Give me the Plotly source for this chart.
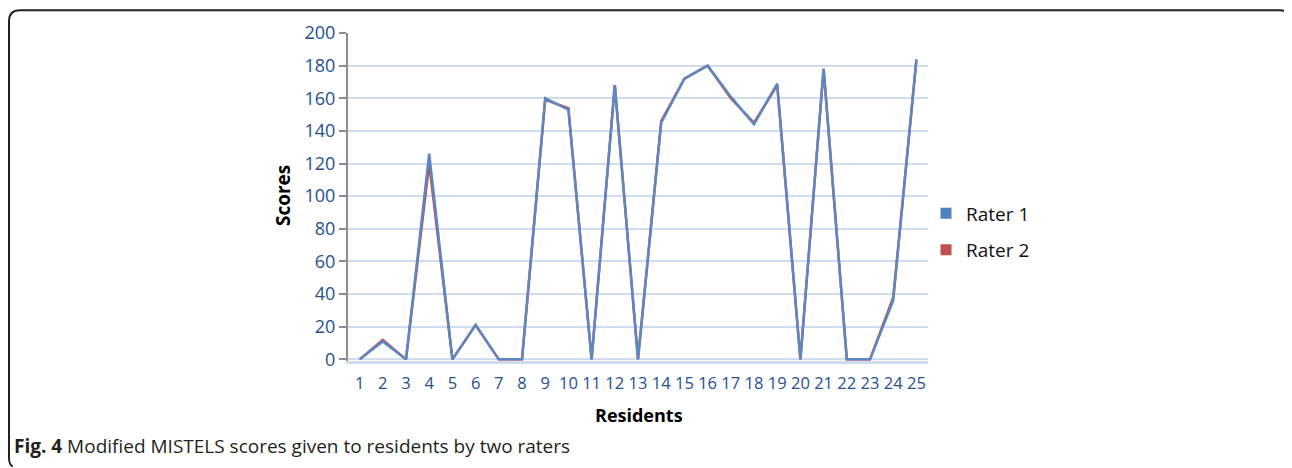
import plotly.graph_objects as go

residents = [str(i) for i in range(1, 26)]
rater1 = [0, 11, 0, 126, 0, 21, 0, 0, 160, 153, 0, 168, 0, 145, 172, 180, 161, 144, 169, 0, 178, 0, 0, 36, 184]
rater2 = [0, 12, 0, 120, 0, 21, 0, 0, 159, 154, 0, 168, 0, 146, 172, 180, 160, 145, 168, 0, 178, 0, 0, 38, 183]
y_ticks = [0, 20, 40, 60, 80, 100, 120, 140, 160, 180, 200]

OFF = 8  # browser body margin
W, H = 1292 - OFF, 468 - OFF
# plot area in reference (page) pixel coordinates
L, R, T, B = 348, 928, 31, 361
PW, PH = R - L, B - T


def px(x):
    return (x - L) / PW


def py(y):
    return (B - y) / PH


BLUE = "#5b87c5"
RED = "#c0504d"
TICK = "#24508f"
FONT = "Open Sans"

fig = go.Figure()
fig.add_trace(go.Scatter(x=residents, y=rater2, mode="lines", line=dict(color=RED, width=2.5),
                         showlegend=False, hoverinfo="skip"))
fig.add_trace(go.Scatter(x=residents, y=rater1, mode="lines", line=dict(color=BLUE, width=2.5),
                         showlegend=False, hoverinfo="skip"))
fig.add_trace(go.Scatter(x=[None], y=[None], mode="markers", name="Rater 1", legendgroup="a",
                         marker=dict(symbol="square", size=11, color="#4f81bd")))
fig.add_trace(go.Scatter(x=[None], y=[None], mode="markers", name="Rater 2", legendgroup="b",
                         marker=dict(symbol="square", size=11, color=RED)))

# frame path (rounded corners top-left, top-right, bottom-left)
fr = (f"M {px(1288)},{py(16)} Q {px(1288)},{py(8)} {px(1280)},{py(8)} "
      f"L {px(20)},{py(8)} Q {px(9)},{py(8)} {px(9)},{py(19)} "
      f"L {px(9)},{py(458)} Q {px(9)},{py(466)} {px(13)},{py(467)}")

fig.update_layout(
    width=W, height=H,
    margin=dict(l=L - OFF, r=1292 - R, t=T - OFF, b=468 - B),
    paper_bgcolor="white", plot_bgcolor="white",
    font=dict(family=FONT),
    xaxis=dict(type="category", range=[-0.5, 24.5], showgrid=False,
               showline=True, linecolor="#cfdcee", linewidth=3,
               ticks="outside", ticklen=5, tickcolor="rgba(0,0,0,0)",
               tickfont=dict(size=16.5, color=TICK, family=FONT)),
    yaxis=dict(range=[-1, 200], tickvals=y_ticks, showgrid=True, gridcolor="#cfdcee", gridwidth=2,
               showline=True, linecolor="#8c8c8c", linewidth=2, zeroline=False,
               ticks="outside", ticklen=7, tickcolor="#8c8c8c", tickwidth=2,
               tickfont=dict(size=18, color=TICK, family=FONT)),
    legend=dict(x=px(926), y=py(231), xanchor="left", yanchor="middle",
                font=dict(size=19, color="#111111", family=FONT),
                tracegroupgap=9, bgcolor="rgba(0,0,0,0)"),
    shapes=[dict(type="path", path=fr, xref="paper", yref="paper",
                 line=dict(color="#222222", width=2), layer="above")],
    annotations=[
        dict(text="<b>Scores</b>", x=px(283), y=py(195), xref="paper", yref="paper",
             xanchor="center", yanchor="middle",
             showarrow=False, textangle=-90, font=dict(size=19, color="#000000", family=FONT)),
        dict(text="<b>Residents</b>", x=px(639), y=py(415), xref="paper", yref="paper",
             xanchor="center", yanchor="middle",
             showarrow=False, font=dict(size=18, color="#000000", family=FONT)),
        dict(text="<b>Fig. 4</b> Modified MISTELS scores given to residents by two raters",
             x=px(12), y=py(447), xref="paper", yref="paper", xanchor="left", yanchor="middle",
             showarrow=False, font=dict(size=19, color="#231f20", family=FONT)),
    ],
)

fig.write_html("out.html")
